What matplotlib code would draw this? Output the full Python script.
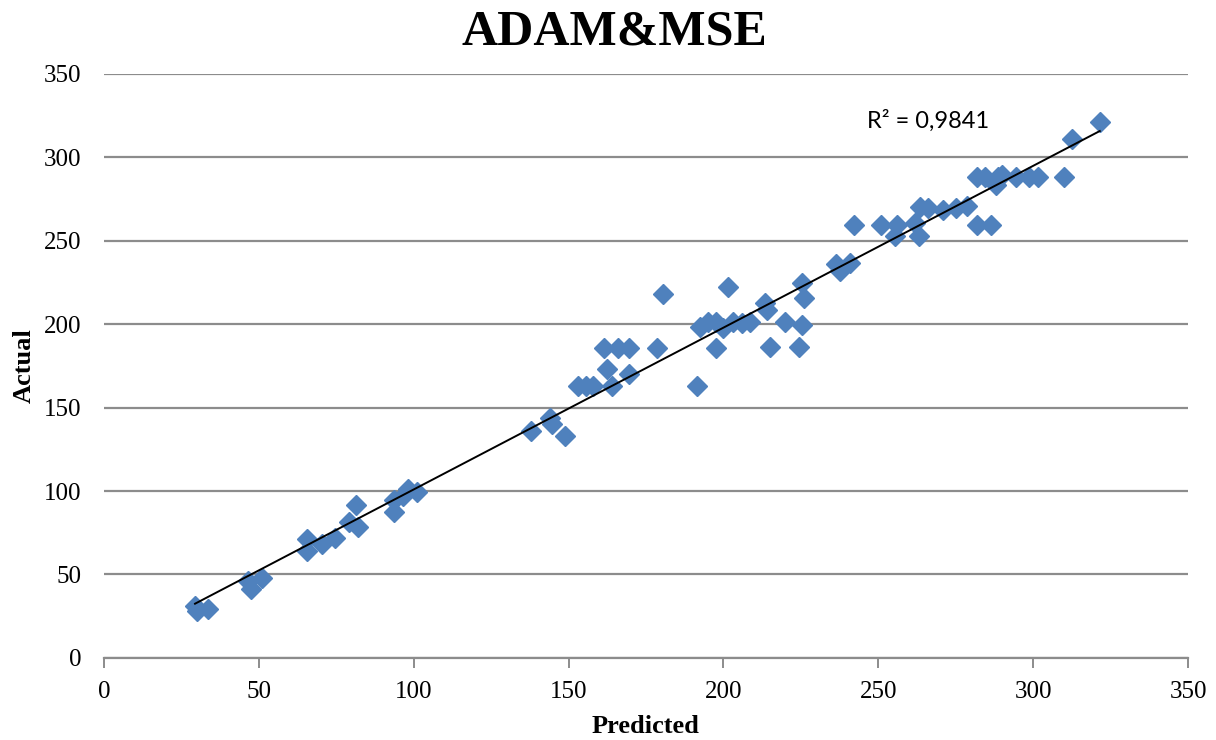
import numpy as np
import matplotlib.pyplot as plt

# values
predicted = [29.4, 30.0, 33.5, 46.5, 47.5, 51.0, 65.5, 65.5, 70.5, 74.5,
             79.0, 81.5, 82.0, 93.5, 93.5, 96.5, 98.0, 101.0,
             138.0, 144.0, 144.5, 149.0, 153.0, 155.5, 158.0, 164.0,
             161.5, 166.0, 169.5, 162.5, 169.5, 178.5, 180.5,
             191.5, 192.5, 195.0, 197.5, 200.0, 197.5, 201.5, 203.0, 206.0, 208.5,
             213.5, 214.0, 215.0, 220.0, 225.5, 224.5, 225.5, 226.0,
             236.5, 237.5, 241.0, 242.0,
             251.0, 256.0, 255.5, 262.0, 263.0, 263.5, 266.0, 271.0, 275.0, 278.5,
             282.0, 286.5, 282.0, 284.5, 288.0, 288.5, 290.0, 294.5, 298.5, 301.5,
             310.0, 312.5, 321.5]
actual = [31.0, 28.0, 29.5, 46.0, 41.0, 48.0, 71.0, 64.0, 68.0, 72.0,
          81.5, 91.5, 78.5, 87.5, 94.5, 97.0, 101.0, 99.5,
          136.0, 144.0, 140.0, 133.0, 163.0, 163.0, 163.0, 163.0,
          186.0, 186.0, 186.0, 173.0, 170.0, 186.0, 218.0,
          163.0, 198.5, 201.5, 201.5, 198.0, 186.0, 222.5, 201.5, 201.0, 201.5,
          213.0, 208.5, 186.5, 201.5, 199.5, 186.5, 224.5, 216.0,
          236.0, 232.0, 236.5, 259.5,
          259.5, 259.5, 253.0, 260.5, 253.0, 270.0, 269.5, 268.5, 269.5, 271.0,
          259.5, 259.5, 288.5, 288.5, 283.5, 288.0, 289.5, 288.5, 288.5, 288.5,
          288.5, 311.0, 321.0]
r2_label = "R² = 0,9841"

x = np.array(predicted)
y = np.array(actual)

plt.rcParams['font.family'] = ['Liberation Serif', 'DejaVu Serif']

fig = plt.figure(figsize=(12.16, 7.4), dpi=100)
ax = fig.add_axes([0.0855, 0.111, 0.8915, 0.789])

ax.set_xlim(0, 350)
ax.set_ylim(0, 350)
ax.set_xticks(np.arange(0, 351, 50))
ax.set_yticks(np.arange(0, 351, 50))

ax.grid(axis="y", color="#8c8c8c", lw=1.6)
ax.set_axisbelow(True)
for s in ["top", "right", "left"]:
    ax.spines[s].set_visible(False)
ax.spines["bottom"].set_color("#8c8c8c")
ax.spines["bottom"].set_linewidth(1.6)
ax.tick_params(axis="x", direction="out", length=7, width=1.4, color="#8c8c8c",
               labelsize=18, pad=10)
ax.tick_params(axis="y", length=0, labelsize=18, pad=16)

ax.plot(x, y, linestyle="none", marker="D", markersize=10.5,
        color="#4f81bd", markeredgecolor="#4f81bd", zorder=3)

# linear trendline
k, b = np.polyfit(x, y, 1)
xs = np.array([x.min(), x.max()])
ax.plot(xs, k * xs + b, color="black", lw=1.4, zorder=4)

ax.text(246.5, 322, r2_label, fontsize=17, family=["Lato", "DejaVu Sans"],
        va="center", ha="left")

fig.suptitle("ADAM&MSE", fontsize=36, fontweight="bold", x=0.505, y=0.987)
ax.set_xlabel("Predicted", fontsize=19, fontweight="bold", labelpad=8)
ax.set_ylabel("Actual", fontsize=19, fontweight="bold")
ax.yaxis.set_label_coords(-0.063, 0.5)

fig.savefig("out.png", dpi=100)
